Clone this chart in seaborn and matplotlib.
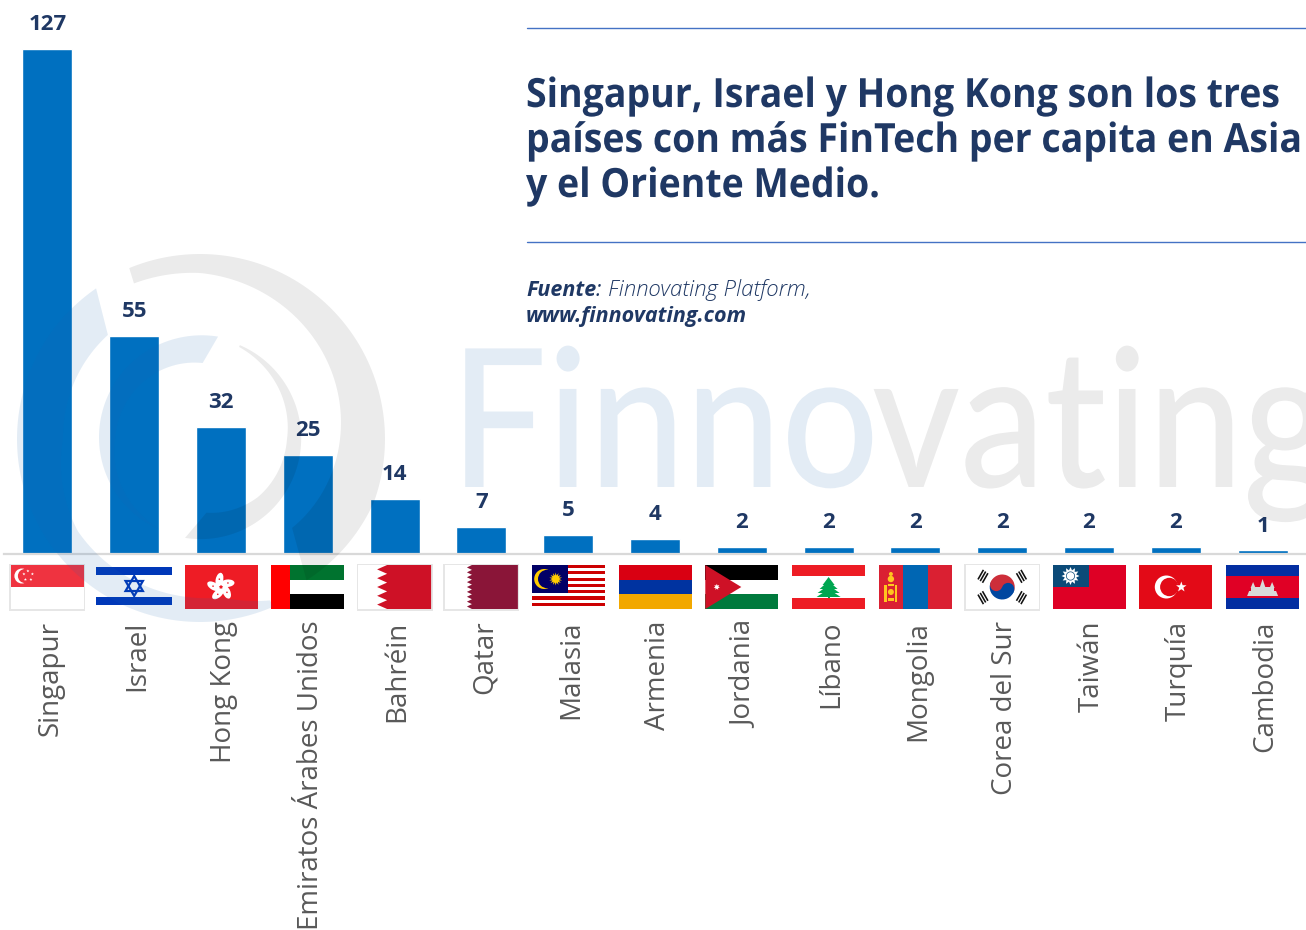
import numpy as np
import matplotlib
matplotlib.use("Agg")
from matplotlib import pyplot as plt
from matplotlib import patches as mp
from matplotlib import patheffects as pe
from matplotlib.transforms import Affine2D, ScaledTranslation
import seaborn as sns

paises = ["Singapur", "Israel", "Hong Kong", "Emiratos Árabes Unidos", "Bahréin", "Qatar", "Malasia",
          "Armenia", "Jordania", "Líbano", "Mongolia", "Corea del Sur", "Taiwán", "Turquía", "Cambodia"]
fintech = [127, 55, 32, 25, 14, 7, 5, 4, 2, 2, 2, 2, 2, 2, 1]
titulo = ["Singapur, Israel y Hong Kong son los tres",
          "países con más FinTech per capita en Asia",
          "y el Oriente Medio."]

AZUL = "#0070C0"
NAVY = "#1F3864"
W, H = 1306, 930


class Squeeze(pe.AbstractPathEffect):
    # narrows the glyphs of a text around its origin
    def __init__(self, sx):
        self.sx = sx

    def draw_path(self, renderer, gc, tpath, affine, rgbFace=None):
        renderer.draw_path(gc, tpath, Affine2D().scale(self.sx, 1) + affine, rgbFace)


def px_axes(x0, y0, x1, y1, zorder):
    a = fig.add_axes([x0 / W, 1 - y1 / H, (x1 - x0) / W, (y1 - y0) / H], zorder=zorder)
    a.set_xlim(x0, x1)
    a.set_ylim(y1, y0)
    a.axis("off")
    a.patch.set_alpha(0)
    return a


def rect(a, x, y, w, h, c, **kw):
    a.add_patch(mp.Rectangle((x, y), w, h, fc=c, ec="none", **kw))


def poly(a, pts, c, **kw):
    a.add_patch(mp.Polygon(pts, closed=True, fc=c, ec="none", **kw))


def circle(a, x, y, r, c):
    a.add_patch(mp.Circle((x, y), r, fc=c, ec="none"))


def star(a, x, y, r, c, n=5, inner=0.4, rot=90):
    ang = np.radians(rot + np.arange(2 * n) * 180 / n)
    rad = np.where(np.arange(2 * n) % 2 == 0, r, r * inner)
    poly(a, np.c_[x + rad * np.cos(ang), y - rad * np.sin(ang)], c)


def borde(a):
    rect(a, -1.5, -1.5, 76, 47, "#E6E6E6")
    rect(a, 0, 0, 73, 44, "white")


def singapur(a):
    borde(a)
    rect(a, 0, 0, 73, 22, "#EF3340")
    circle(a, 11, 11, 7.5, "white")
    circle(a, 14, 11, 7, "#EF3340")
    for dx, dy in [(17, 6), (21.5, 9), (20, 14.5), (14.5, 14.5), (13, 9)]:
        star(a, dx, dy, 1.6, "white")


def israel(a):
    rect(a, -2, 2, 76, 7.5, "#0038B8")
    rect(a, -2, 32, 76, 8, "#0038B8")
    for rot in (90, 270):
        ang = np.radians(rot + np.array([0, 120, 240]))
        a.add_patch(mp.Polygon(np.c_[36.5 + 10 * np.cos(ang), 21 - 10 * np.sin(ang)], closed=True,
                               fc="none", ec="#0038B8", lw=1.6))


def hongkong(a):
    rect(a, 0, 0, 73, 44, "#EE1C25")
    for i in range(5):
        ang = 90 - 72 * i + 12
        x = 36.5 + 7.5 * np.cos(np.radians(ang))
        y = 22 - 7.5 * np.sin(np.radians(ang))
        a.add_patch(mp.Ellipse((x, y), 14, 7.5, angle=-ang + 25, fc="white", ec="none"))
        x2 = 36.5 + 8 * np.cos(np.radians(ang))
        y2 = 22 - 8 * np.sin(np.radians(ang))
        circle(a, x2, y2, 0.8, "#EE1C25")


def emiratos(a):
    rect(a, 18, 0, 55, 15, "#00732F")
    rect(a, 18, 15, 55, 14, "white")
    rect(a, 18, 29, 55, 15, "black")
    rect(a, 0, 0, 18.5, 44, "#FF0000")


def dentado(a, c, n, x0, x1):
    rect(a, 0, 0, 73, 44, "white")
    ys = np.linspace(0, 44, 2 * n + 1)
    xs = [x0 if i % 2 == 0 else x1 for i in range(2 * n + 1)]
    poly(a, [(73, 0)] + list(zip(xs, ys)) + [(73, 44)], c)


def bahrein(a):
    borde(a)
    dentado(a, "#CE1126", 5, 29, 19)


def qatar(a):
    borde(a)
    dentado(a, "#8A1538", 9, 27, 22)


def malasia(a):
    for i in range(14):
        rect(a, 0, i * 44 / 14, 73, 44 / 14, "#CC0001" if i % 2 == 0 else "white")
    rect(a, 0, 0, 36, 28, "#010066")
    circle(a, 12.5, 14, 10, "#FFCC00")
    circle(a, 15.5, 14, 9.2, "#010066")
    star(a, 24, 14, 6.5, "#FFCC00", n=14, inner=0.55)


def armenia(a):
    for i, c in enumerate(["#D90012", "#0033A0", "#F2A800"]):
        rect(a, 0, i * 44 / 3, 73, 44 / 3, c)


def jordania(a):
    for i, c in enumerate(["black", "white", "#007A3D"]):
        rect(a, 0, i * 44 / 3, 73, 44 / 3, c)
    poly(a, [(0, 0), (36, 22), (0, 44)], "#CE1126")
    star(a, 11.5, 22, 3.2, "white", n=7, inner=0.5)


def libano(a):
    rect(a, 0, 0, 73, 44, "white")
    rect(a, 0, 0, 73, 11, "#ED1C24")
    rect(a, 0, 33, 73, 11, "#ED1C24")
    for y, w in [(20, 6), (24, 9), (28, 11), (32, 12)]:
        poly(a, [(36.5 - w, y), (36.5 + w, y), (36.5, y - 8)], "#00A651")
    rect(a, 35.5, 30, 2, 3, "#00A651")


def mongolia(a):
    rect(a, 0, 0, 73, 44, "#DA2032")
    rect(a, 24.5, 0, 24.5, 44, "#0066B3")
    g = "#FFC61E"
    circle(a, 12, 9, 2, g)
    circle(a, 12, 14, 3.2, g)
    rect(a, 5.5, 20, 2.5, 17, g)
    rect(a, 16, 20, 2.5, 17, g)
    rect(a, 9, 19, 6, 2, g)
    rect(a, 9, 33, 6, 3, g)
    circle(a, 12, 27, 3, g)


def corea(a):
    borde(a)
    cx, cy, r = 36.5, 22, 12.5
    rot = 20
    a.add_patch(mp.Wedge((cx, cy), r, 180 + rot, 360 + rot, fc="#CD2E3A", ec="none"))
    a.add_patch(mp.Wedge((cx, cy), r, rot, 180 + rot, fc="#0047A0", ec="none"))
    c, s = np.cos(np.radians(rot)), np.sin(np.radians(rot))
    circle(a, cx - r / 2 * c, cy - r / 2 * s, r / 2, "#CD2E3A")
    circle(a, cx + r / 2 * c, cy + r / 2 * s, r / 2, "#0047A0")
    for sx, sy in [(-1, -1), (1, -1), (-1, 1), (1, 1)]:
        ang = np.degrees(np.arctan2(sy * 12, sx * 21))
        for k in (0, 2.8, 5.6):
            d = np.array([sx * 17, sy * 9]) + k * np.array([sx * 0.8, sy * 0.6])
            l = mp.Rectangle((-5.5, -0.8), 11, 1.6, fc="#111111", ec="none",
                             transform=Affine2D().rotate_deg(ang + 90).translate(cx + d[0], cy + d[1]) + a.transData)
            a.add_patch(l)


def taiwan(a):
    rect(a, 0, 0, 73, 44, "#DE0025")
    rect(a, 0, 0, 36, 22, "#0B4A78")
    star(a, 18, 11, 9, "white", n=12, inner=0.65)
    circle(a, 18, 11, 4.5, "#0B4A78")
    circle(a, 18, 11, 3.8, "white")


def turquia(a):
    rect(a, 0, 0, 73, 44, "#E30A17")
    circle(a, 27, 22, 11.5, "white")
    circle(a, 30, 22, 9.2, "#E30A17")
    star(a, 42, 22, 5.5, "white", rot=162)


def cambodia(a):
    rect(a, 0, 0, 73, 44, "#E00025")
    rect(a, 0, 0, 73, 11, "#032EA1")
    rect(a, 0, 33, 73, 11, "#032EA1")
    g = "#D9D9D9"
    poly(a, [(21, 31), (52, 31), (50, 26), (23, 26)], g)
    rect(a, 25, 22, 23, 5, g)
    for x, w, t in [(27, 2.5, 17), (36.5, 3, 14), (46, 2.5, 17)]:
        poly(a, [(x - w, 23), (x + w, 23), (x, t)], g)


banderas = [singapur, israel, hongkong, emiratos, bahrein, qatar, malasia, armenia,
            jordania, libano, mongolia, corea, taiwan, turquia, cambodia]

sns.set_theme(style="white")
plt.rcParams["font.family"] = ["Open Sans", "DejaVu Sans"]

fig = plt.figure(figsize=(W / 100, H / 100), dpi=100)
ax = fig.add_axes([4 / W, 1 - 554 / H, 1302 / W, 554 / H], zorder=1)
sns.barplot(x=paises, y=fintech, color=AZUL, saturation=1, width=0.575, ax=ax)
ax.set_xlim(-0.5, 14.5)
ax.set_ylim(0.12, 139.32)
ax.set_yticks([])
sns.despine(ax=ax, left=True)
ax.spines["bottom"].set_color("#D9D9D9")
ax.spines["bottom"].set_linewidth(1.6)
ax.bar_label(ax.containers[0], padding=10, fontsize=16, fontweight="bold", color=NAVY)
ax.tick_params(axis="x", length=0, pad=48)
plt.setp(ax.get_xticklabels(), rotation=90, ha="right", va="center", rotation_mode="anchor",
         fontsize=20, color="#595959")
desplaza = ScaledTranslation(3 / 100, 0, fig.dpi_scale_trans)
for lab in ax.get_xticklabels():
    lab.set_transform(lab.get_transform() + desplaza)

# flags under the bar centres
fig.canvas.draw()
for i, dibujar in enumerate(banderas):
    cx = ax.transData.transform((i, 1))[0]
    fl = px_axes(0, 0, 1, 1, 2)
    fl.set_position([(cx - 36.5 - 3) / W, 1 - (565 + 47) / H, 79 / W, 50 / H])
    fl.set_xlim(-3, 76)
    fl.set_ylim(47, -3)
    dibujar(fl)

# header block
txt = px_axes(0, 0, W, H, 3)
for y in (28, 242):
    txt.plot([527, W], [y, y], color="#4472C4", lw=1)
for y, linea in zip((107, 152, 197), titulo):
    t = txt.text(526, y, linea, fontsize=29, fontweight="bold", color=NAVY, va="baseline")
    t.set_path_effects([Squeeze(0.93)])
txt.text(526, 296, "Fuente", fontsize=15.5, fontweight="bold", style="italic", color=NAVY, va="baseline")
txt.text(596, 296, ":", fontsize=15.5, style="italic", color=NAVY, va="baseline")
txt.text(608, 296, "Finnovating Platform,", fontsize=16, fontweight="light", style="italic", color=NAVY, va="baseline")
txt.text(526, 322, "www.finnovating.com", fontsize=15.5, fontweight="bold", style="italic", color=NAVY, va="baseline")

# watermark, drawn over everything with low alpha
wm = px_axes(0, 0, W, H, 5)
BLUE_W, GREY_W = ("#1F66B0", 0.12), ("black", 0.08)
cx0, cy0 = 200, 439


def anillo(ang_out, r_out, ang_in, r_in, estilo):
    a1 = np.radians(np.linspace(ang_out[0], ang_out[-1], 120))
    r1 = np.interp(np.degrees(a1), sorted(ang_out), [r for _, r in sorted(zip(ang_out, r_out))])
    a2 = np.radians(np.linspace(ang_in[0], ang_in[-1], 120))
    r2 = np.interp(np.degrees(a2), sorted(ang_in), [r for _, r in sorted(zip(ang_in, r_in))])
    pts = np.r_[np.c_[cx0 + r1 * np.cos(a1), cy0 - r1 * np.sin(a1)],
                np.c_[cx0 + r2 * np.cos(a2), cy0 - r2 * np.sin(a2)][::-1]]
    wm.add_patch(mp.Polygon(pts, closed=True, fc=estilo[0], alpha=estilo[1], ec="none", clip_on=False))


anillo([112.5, -20, -53], [185, 185, 177], [113, 90, 0, -44], [169, 166, 140, 128], GREY_W)
anillo([124.6, 293.5], [183, 183], [131.5, 180, 217, 278, 293.5], [139, 137, 153, 160, 176], BLUE_W)
anillo([67, -98.6], [102, 100], [67, 30, 0, -45, -85], [100, 93, 87, 82, 74], GREY_W)
anillo([80, 246], [104, 99], [88, 180, 246], [76, 85, 99], BLUE_W)

for x, s, (c, al), sx in [(450, "Finno", BLUE_W, 0.89), (872, "vating", GREY_W, 0.88)]:
    t = wm.text(x, 487, s, fontsize=139, family="Lato", fontweight=500, color=c, alpha=al, va="baseline", ha="left")
    t.set_path_effects([Squeeze(sx)])

fig.savefig("out.png", dpi=100)
